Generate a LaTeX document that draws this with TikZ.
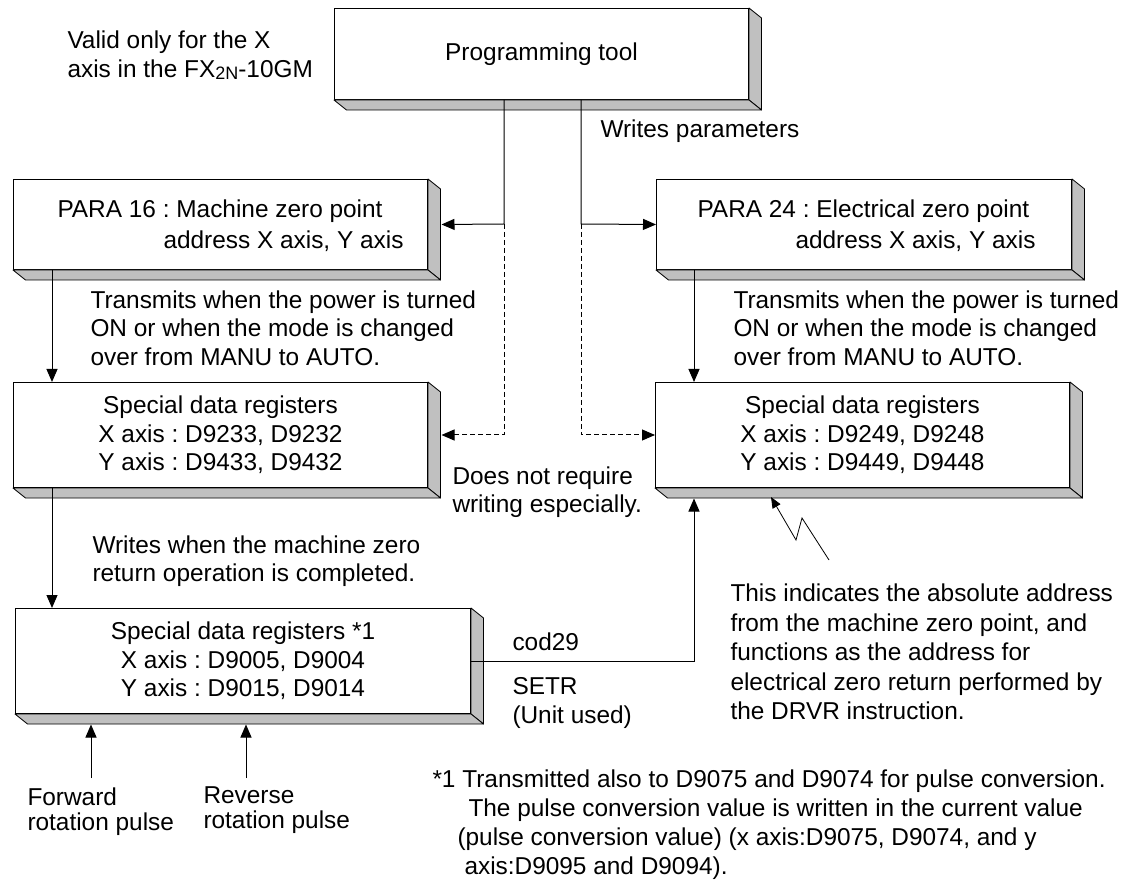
\documentclass[tikz,border=0pt]{standalone}
\usepackage{fontspec}
\setmainfont{Liberation Sans}
\usetikzlibrary{arrows.meta, calc, positioning}
\frenchspacing
\definecolor{slabgray}{HTML}{C0C0C0}
\newcommand{\bodysize}{\fontsize{24.4}{28.5}\selectfont}
% grey side and bottom faces of a raised box
\newcommand{\slab}[1]{%
  \filldraw[slab] (#1.north east) -- ++(12.5,10) -- ([shift={(12.5,10)}]#1.south east) -- (#1.south east) -- cycle;
  \filldraw[slab] (#1.south west) -- ++(12.5,10) -- ([shift={(12.5,10)}]#1.south east) -- (#1.south east) -- cycle;
}
\tikzset{
  panel/.style={draw, fill=white, rectangle, anchor=north west, inner sep=0pt, align=center},
  slab/.style={fill=slabgray, draw=black, line width=0.8pt, line join=round},
  note/.style={anchor=west, align=left, inner sep=0pt},
  flow/.style={-{Triangle[length=13pt, width=11pt]}, line width=1pt},
  hint/.style={flow, dash pattern=on 5pt off 3pt},
  spark/.style={-{Triangle[length=11pt, width=9pt]}, line width=0.8pt},
}
\begin{document}
\begin{tikzpicture}[x=1pt, y=-1pt, line width=1pt, font=\bodysize]
  \fill[white] (0,0) rectangle (1130,882);
  \useasboundingbox (0,0) rectangle (1130,882);

  % raised boxes
  \node[panel, minimum width=414pt, minimum height=91pt] (tool) at (334,8) {Programming tool};
  \node[panel, minimum width=414pt, minimum height=90pt] (para16) at (13,179) {};
  \node[panel, minimum width=415pt, minimum height=90pt] (para24) at (656,179) {};
  \node[panel, minimum width=414pt, minimum height=105pt] (sd1) at (13,382)
    {Special data registers\\X axis : D9233, D9232\\Y axis : D9433, D9432};
  \node[panel, minimum width=414pt, minimum height=105pt] (sd2) at (655,382)
    {Special data registers\\X axis : D9249, D9248\\Y axis : D9449, D9448};
  \node[panel, minimum width=455pt, minimum height=105pt] (sd3) at (15,608)
    {Special data registers *1\\X axis : D9005, D9004\\Y axis : D9015, D9014};
  \slab{tool} \slab{para16} \slab{para24} \slab{sd1} \slab{sd2} \slab{sd3}

  % texts in the PARA boxes
  \node[note] (p16txt) at (57,226) {PARA 16 : Machine zero point\\[2.5pt]\hspace*{106pt}address X axis, Y axis};
  \node[note] (p24txt) at (697,226) {PARA 24 : Electrical zero point\\[2.5pt]\hspace*{98pt}address X axis, Y axis};

  % free texts
  \node[note] (valid) at (67,55) {Valid only for the X\\axis in the FX\raisebox{-2pt}{\fontsize{18}{18}\selectfont 2N}-10GM};
  \node[note] (wparam) at (600,131) {Writes parameters};
  \node[note] (txL) at (90,328) {Transmits when the power is turned\\ON or when the mode is changed\\over from MANU to AUTO.};
  \node[note] (txR) at (733,328) {Transmits when the power is turned\\ON or when the mode is changed\\over from MANU to AUTO.};
  \node[note] (nowrite) at (452,492) {Does not require\\writing especially.};
  \node[note] (wzero) at (92,561) {Writes when the machine zero\\return operation is completed.};
  \node[note] (cod) at (512,642) {cod29};
  \node[note] (setr) at (512,703) {SETR\\(Unit used)};
  \node[note, font=\fontsize{24.4}{29.5}\selectfont] (absnote) at (730,652)
    {This indicates the absolute address\\from the machine zero point, and\\functions as the address for\\electrical zero return performed by\\the DRVR instruction.};
  \node[note, font=\fontsize{24.4}{25}\selectfont] (fwdtxt) at (27,812) {Forward\\rotation pulse};
  \node[note, font=\fontsize{24.4}{25}\selectfont] (revtxt) at (203,810) {Reverse\\rotation pulse};
  \node[note, font=\fontsize{24.4}{29}\selectfont] (foot) at (432,825)
    {*1 Transmitted also to D9075 and D9074 for pulse conversion.\\
     \hspace*{36pt}The pulse conversion value is written in the current value\\
     \hspace*{25pt}(pulse conversion value) (x axis:D9075, D9074, and y\\
     \hspace*{32pt}axis:D9095 and D9094).};

  % junctions and free ends
  \coordinate (jL) at (504,224);
  \coordinate (jR) at (581,224);
  \coordinate (drop16) at ([xshift=39pt]para16.south west);
  \coordinate (drop24) at ([xshift=38pt]para24.south west);
  \coordinate (drop1) at ([xshift=39pt]sd1.south west);
  \coordinate (sd2base) at ([yshift=-10.5pt]sd2.south);
  \coordinate (sd3base) at ([yshift=-10.5pt]sd3.south);
  \coordinate (fwdtail) at (91,778);
  \coordinate (revtail) at (246,778);
  \coordinate (zz) at (829,560);

  % connectors
  \draw[flow] (jL |- tool.south) -- (jL) -- ([xshift=13.5pt]para16.east);
  \draw[flow] (jR |- tool.south) -- (jR) -- (para24.west);
  \draw[hint] (jL) -- (jL |- sd1.east) -- ([xshift=13.5pt]sd1.east);
  \draw[hint] (jR) -- (jR |- sd2.west) -- (sd2.west);
  \draw[flow] (drop16) -- (drop16 |- sd1.north);
  \draw[flow] (drop24) -- (drop24 |- sd2.north);
  \draw[flow] (drop1) -- (drop1 |- sd3.north);
  \draw[flow] (sd3.east) -- (sd3.east -| drop24) -- (drop24 |- sd2base);
  \draw[flow] (fwdtail) -- (fwdtail |- sd3base);
  \draw[flow] (revtail) -- (revtail |- sd3base);
  \draw[spark] (zz) -- (802,518) -- (796,540) -- (771,497);
\end{tikzpicture}
\end{document}
